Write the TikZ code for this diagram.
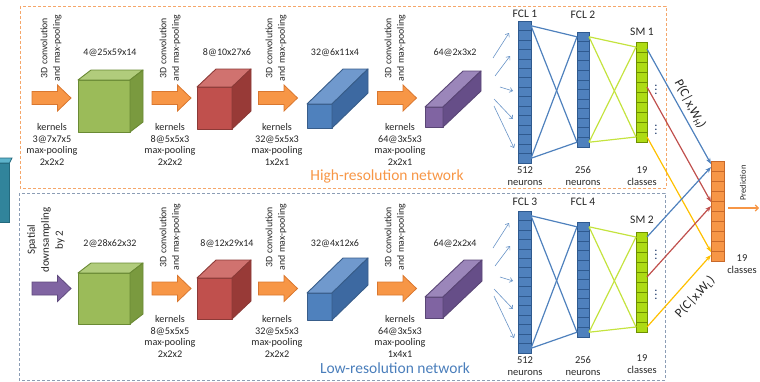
\documentclass[tikz,border=0pt]{standalone}
\usepackage{fontspec}
\setmainfont{Carlito}
\usetikzlibrary{arrows.meta,calc}

% palette
\definecolor{txtc}{HTML}{262626}
\definecolor{orgF}{HTML}{F79646}
\definecolor{orgE}{HTML}{D9772F}
\definecolor{purF}{HTML}{8064A2}
\definecolor{purE}{HTML}{5F4A7E}
\definecolor{greenfront}{HTML}{9BBB59}
\definecolor{greentop}{HTML}{B1CC7C}
\definecolor{greenside}{HTML}{7A9A3F}
\definecolor{greenedge}{HTML}{6A8A34}
\definecolor{redfront}{HTML}{C0504D}
\definecolor{redtop}{HTML}{D0726F}
\definecolor{redside}{HTML}{983A37}
\definecolor{rededge}{HTML}{8C3A37}
\definecolor{bluefront}{HTML}{4F81BD}
\definecolor{bluetop}{HTML}{7099CD}
\definecolor{blueside}{HTML}{3D69A1}
\definecolor{blueedge}{HTML}{385D8A}
\definecolor{purplefront}{HTML}{8064A2}
\definecolor{purpletop}{HTML}{9B86BA}
\definecolor{purpleside}{HTML}{664E88}
\definecolor{purpleedge}{HTML}{5A4676}
\definecolor{tealfront}{HTML}{31849B}
\definecolor{tealtop}{HTML}{5DB3CB}
\definecolor{tealedge}{HTML}{23697D}
\definecolor{fclF}{HTML}{4F81BD}
\definecolor{fclE}{HTML}{2F5A8F}
\definecolor{smF}{HTML}{AEDB14}
\definecolor{smE}{HTML}{6E9000}
\definecolor{predF}{HTML}{F79646}
\definecolor{predE}{HTML}{C8692A}
\definecolor{lnBlue}{HTML}{4F81BD}
\definecolor{lnLime}{HTML}{C4E33E}
\definecolor{lnRed}{HTML}{C0504D}
\definecolor{lnYellow}{HTML}{FFC000}
\definecolor{hiBox}{HTML}{F5A66A}
\definecolor{loBox}{HTML}{8C9DB5}
\definecolor{dotc}{HTML}{1F3A6B}
\definecolor{loTxt}{HTML}{4A7EBB}

% cuboid: x1 y1 x2 y2 (front face), depth dx dy, colour stem
\newcommand\cuboid[7]{%
  \filldraw[fill=#7front, draw=#7edge, line width=0.9pt, line join=round] (#1,#2) rectangle (#3,#4);
  \filldraw[fill=#7top, draw=#7edge, line width=0.9pt, line join=round]
    (#1,#2) -- ({#1+#5},{#2-#6}) -- ({#3+#5},{#2-#6}) -- (#3,#2) -- cycle;
  \filldraw[fill=#7side, draw=#7edge, line width=0.9pt, line join=round]
    (#3,#2) -- ({#3+#5},{#2-#6}) -- ({#3+#5},{#4-#6}) -- (#3,#4) -- cycle;
}

% block arrow centred on a named coordinate
\newcommand\blockarrow[4]{%
  \coordinate (#1) at (#2,#3);
  \filldraw[fill=#4F, draw=#4E, line width=0.8pt, line join=miter]
    ($(#1)+(-19.5,-6.5)$) -- ++(25.5,0) -- ++(0,-6.5) -- ++(13.5,13)
    -- ++(-13.5,13) -- ++(0,-6.5) -- ++(-25.5,0) -- cycle;
}

% stacked cells: prefix, x centre, y top, y bottom, count, width, style
\newcommand\cellcolumn[7]{%
  \pgfmathsetmacro\cellh{(#4-#3)/#5}
  \foreach \i in {1,...,#5}{
    \node[#7, minimum width=#6pt, minimum height=\cellh pt] (#1-\i) at (#2,{#3+\cellh*(\i-0.5)}) {};
  }
}

\begin{document}
\begin{tikzpicture}[x=1pt,y=-1pt,
  txt/.style={font=\fontsize{10.2}{11.5}\selectfont, text=txtc, inner sep=0pt, align=center},
  convtxt/.style={font=\fontsize{9.8}{12.5}\selectfont, text=txtc, inner sep=0pt, align=center, rotate=90},
  dimtxt/.style={font=\fontsize{10}{12}\selectfont, text=txtc, inner sep=0pt},
  layertxt/.style={font=\fontsize{11.5}{13}\selectfont, text=txtc, inner sep=0pt},
  unittxt/.style={font=\fontsize{10.5}{12}\selectfont, text=txtc, inner sep=0pt, align=center},
  nettxt/.style={font=\fontsize{15.5}{18}\selectfont, inner sep=0pt},
  probtxt/.style={font=\fontsize{13}{15}\selectfont, text=txtc, inner sep=0pt},
  dotstxt/.style={text=dotc, inner sep=0pt, font=\bfseries},
  fclcell/.style={draw=fclE, fill=fclF, line width=0.7pt, inner sep=0pt, outer sep=0pt},
  smcell/.style={draw=smE, fill=smF, line width=0.7pt, inner sep=0pt, outer sep=0pt},
  predcell/.style={draw=predE, fill=predF, line width=0.7pt, inner sep=0pt, outer sep=0pt},
  feed/.style={draw=lnBlue!85, line width=0.6pt, -{Straight Barb[length=3pt,width=5pt]}},
  link/.style={line width=1.2pt},
  vote/.style={line width=1.2pt, -{Stealth[length=6pt,width=4.5pt]}},
]
\useasboundingbox (0,0) rectangle (760,381);

% network frames
\draw[hiBox, line width=1pt, dash pattern=on 3pt off 2pt] (20,6) rectangle (666,188);
\draw[loBox, line width=1pt, dash pattern=on 3pt off 2pt] (19,193) rectangle (665,380);

% input volume (cut at the left margin)
\filldraw[fill=tealfront, draw=tealedge, line width=0.8pt] (-20,163) rectangle (9.5,222);
\filldraw[fill=tealtop, draw=tealedge, line width=0.8pt] (-20,163) -- (-15,158) -- (12,158) -- (9.5,163) -- cycle;

% ---------------- high-resolution stream ----------------
\blockarrow{ha1}{51.5}{98}{org}
\blockarrow{ha2}{171.5}{98}{org}
\blockarrow{ha3}{278}{98}{org}
\blockarrow{ha4}{397}{98}{org}

\node[convtxt] (hc1) at (51,48) {3D convolution\\and max-pooling};
\node[convtxt] (hc2) at (170,48) {3D convolution\\and max-pooling};
\node[convtxt] (hc3) at (276,48) {3D convolution\\and max-pooling};
\node[convtxt] (hc4) at (395,48) {3D convolution\\and max-pooling};

\node[txt, anchor=north] (hk1) at (52,123.5) {kernels\\3@7x7x5\\max-pooling\\2x2x2};
\node[txt, anchor=north] (hk2) at (170,123.5) {kernels\\8@5x5x3\\max-pooling\\2x2x2};
\node[txt, anchor=north] (hk3) at (277,123.5) {kernels\\32@5x5x3\\max-pooling\\1x2x1};
\node[txt, anchor=north] (hk4) at (400,123.5) {kernels\\64@3x5x3\\max-pooling\\2x2x1};

\cuboid{78}{80}{130}{132}{13}{10}{green}
\cuboid{197}{87}{232}{129}{19}{18}{red}
\cuboid{307}{104}{332}{128}{36}{35}{blue}
\cuboid{425}{107}{443}{127}{38}{36}{purple}

\node[dimtxt] (hd1) at (110,53) {4@25x59x14};
\node[dimtxt] (hd2) at (227,53) {8@10x27x6};
\node[dimtxt] (hd3) at (335,53) {32@6x11x4};
\node[dimtxt] (hd4) at (455,53) {64@2x3x2};

\node[nettxt, text=orgF] (hnet) at (387,176) {High-resolution network};

% ---------------- low-resolution stream ----------------
\blockarrow{la1}{51.5}{288.5}{pur}
\blockarrow{la2}{171.5}{288.5}{org}
\blockarrow{la3}{278}{288.5}{org}
\blockarrow{la4}{397}{288.5}{org}

\node[convtxt, font=\fontsize{11}{14}\selectfont] (lc1) at (46,240) {Spatial\\downsampling\\by 2};
\node[convtxt] (lc2) at (170,237) {3D convolution\\and max-pooling};
\node[convtxt] (lc3) at (276,237) {3D convolution\\and max-pooling};
\node[convtxt] (lc4) at (395,237) {3D convolution\\and max-pooling};

\node[txt, anchor=north] (lk2) at (170,315.5) {kernels\\8@5x5x5\\max-pooling\\2x2x2};
\node[txt, anchor=north] (lk3) at (277,315.5) {kernels\\32@5x5x3\\max-pooling\\2x2x2};
\node[txt, anchor=north] (lk4) at (400,315.5) {kernels\\64@3x5x3\\max-pooling\\1x4x1};

\cuboid{78}{273}{130}{324}{13}{10}{green}
\cuboid{197}{278}{232}{319}{19}{18}{red}
\cuboid{307}{293}{332}{320}{36}{35}{blue}
\cuboid{425}{297}{443}{318}{39}{37}{purple}

\node[dimtxt] (ld1) at (110,244) {2@28x62x32};
\node[dimtxt] (ld2) at (227,244) {8@12x29x14};
\node[dimtxt] (ld3) at (335,244) {32@4x12x6};
\node[dimtxt] (ld4) at (455,244) {64@2x2x4};

\node[nettxt, text=loTxt] (lnet) at (395,368) {Low-resolution network};

% ---------------- fully connected layers ----------------
\cellcolumn{f1}{524.5}{21}{163}{15}{13}{fclcell}
\cellcolumn{f2}{583}{32}{147}{12}{12}{fclcell}
\cellcolumn{s1}{641.5}{42}{142}{10}{11}{smcell}
\cellcolumn{f3}{524.5}{211}{353}{15}{13}{fclcell}
\cellcolumn{f4}{583}{222}{337}{12}{12}{fclcell}
\cellcolumn{s2}{641.5}{232}{332}{10}{11}{smcell}
\cellcolumn{p}{717.5}{161}{261}{10}{13}{predcell}

% feature maps flowing into the first dense layers
\foreach \n/\ax/\ay/\bx/\by in {a/493/58/509/33, b/495/76/510/56, c/500/87/513/91, d/494/99/513/119, e/494/106/514/148}{
  \coordinate (hfrom-\n) at (\ax,\ay);
  \coordinate (hto-\n) at (\bx,\by);
  \draw[feed] (hfrom-\n) -- (hto-\n);
  \coordinate (lfrom-\n) at (\ax,{\ay+190});
  \coordinate (lto-\n) at (\bx,{\by+190});
  \draw[feed] (lfrom-\n) -- (lto-\n);
}

% dense connections
\foreach \a/\b in {f1-1/f2-1, f1-1/f2-12, f1-15/f2-1, f1-15/f2-12}
  \draw[link, lnBlue] (\a.east) -- (\b.west);
\foreach \a/\b in {f3-1/f4-1, f3-1/f4-12, f3-15/f4-1, f3-15/f4-12}
  \draw[link, lnBlue] (\a.east) -- (\b.west);
\foreach \a/\b in {f2-1/s1-1, f2-1/s1-10, f2-12/s1-1, f2-12/s1-10}
  \draw[link, lnLime] (\a.east) -- (\b.west);
\foreach \a/\b in {f4-1/s2-1, f4-1/s2-10, f4-12/s2-1, f4-12/s2-10}
  \draw[link, lnLime] (\a.east) -- (\b.west);

% class scores fused into the prediction
\draw[vote, lnBlue] ([yshift=-2pt]s1-1.east) -- ([yshift=2pt]p-1.west);
\draw[vote, lnRed] (s1-5.east) -- ([yshift=4pt]p-5.west);
\draw[vote, lnYellow] (s1-10.east) -- ([yshift=4pt]p-10.west);
\draw[vote, lnBlue] (s2-1.east) -- ([yshift=-1pt]p-1.west);
\draw[vote, lnRed] (s2-5.east) -- (p-5.west);
\draw[vote, lnYellow] (s2-10.east) -- ([yshift=1pt]p-10.west);

% layer captions
\node[layertxt] (t1) at (525,14) {FCL 1};
\node[layertxt] (t2) at (583,15) {FCL 2};
\node[layertxt] (t3) at (642,32) {SM 1};
\node[layertxt] (t4) at (525,202) {FCL 3};
\node[layertxt] (t5) at (583,202) {FCL 4};
\node[layertxt] (t6) at (642,220) {SM 2};

\node[unittxt] (u1) at (525,176) {512\\neurons};
\node[unittxt] (u2) at (583,176) {256\\neurons};
\node[unittxt] (u3) at (642,176) {19\\classes};
\node[unittxt] (u4) at (525,366) {512\\neurons};
\node[unittxt] (u5) at (583,366) {256\\neurons};
\node[unittxt] (u6) at (642,364) {19\\classes};
\node[unittxt] (u7) at (742,264) {19\\classes};

\node[dotstxt] (dt1) at (656,87) {$\vdots$};
\node[dotstxt] (dt2) at (656,127) {$\vdots$};
\node[dotstxt] (dt3) at (656,252) {$\vdots$};
\node[dotstxt] (dt4) at (656,292) {$\vdots$};

\node[probtxt, rotate=-62] (ph) at (690,104) {P(C|x,W\textsubscript{H})};
\node[probtxt, rotate=47] (pl) at (695,297) {P(C|x,W\textsubscript{L})};

% final output
\node[font=\fontsize{8.5}{10}\selectfont, text=txtc, rotate=90, inner sep=0pt] (predlbl) at (743,183) {Prediction};
\coordinate (outA) at (728,208);
\coordinate (outB) at (759,208);
\draw[orgF, line width=1.1pt, -{Straight Barb[length=3pt,width=6pt]}] (outA) -- (outB);
\end{tikzpicture}
\end{document}
